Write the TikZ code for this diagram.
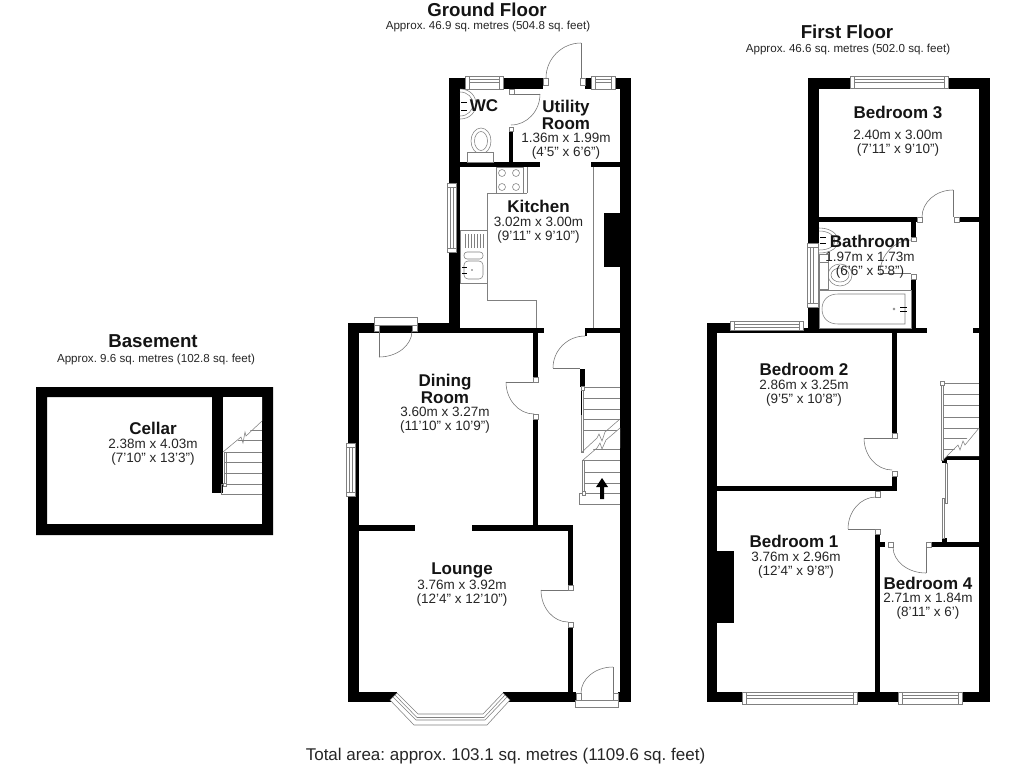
\documentclass[tikz,border=0pt]{standalone}
\usepackage{fontspec}
\setmainfont{Liberation Sans}
\frenchspacing
\tikzset{
  fx/.style={draw=black!50,line width=0.55pt,fill=none},
  dr/.style={draw=black!55,line width=0.55pt},
  wallfill/.style={fill=black,draw=none},
  roomname/.style={font=\fontsize{17}{16.5}\selectfont\bfseries,align=center,inner sep=0pt,text=black!92},
  roomdim/.style={font=\fontsize{13.5}{14}\selectfont,align=center,inner sep=0pt,text=black!85},
  ttl/.style={font=\fontsize{18.7}{20}\selectfont\bfseries,inner sep=0pt,text=black!92},
  subttl/.style={font=\fontsize{11.6}{12}\selectfont,inner sep=0pt,text=black!85}
}
\newcommand{\Wl}[4]{\fill[wallfill] (#1,#2) rectangle (#3,#4);}
\newcommand{\Pst}[4]{\filldraw[fill=white,draw=black!50,line width=0.55pt] (#1,#2) rectangle (#3,#4);}
\newcommand{\HWin}[4]{%
  \filldraw[fill=white,draw=black!50,line width=0.55pt] (#1,#3) rectangle (#2,#4);
  \draw[fx] ({#1+4},{#3+3}) -- ({#2-4},{#3+3}) ({#1+4},{#3+6}) -- ({#2-4},{#3+6}) ({#1+4},#3) -- ({#1+4},#4) ({#2-4},#3) -- ({#2-4},#4);}
\newcommand{\VWin}[4]{%
  \filldraw[fill=white,draw=black!50,line width=0.55pt] (#1,#3) rectangle (#2,#4);
  \draw[fx] ({#1+3},{#3+4}) -- ({#1+3},{#4-4}) ({#1+6},{#3+4}) -- ({#1+6},{#4-4}) (#1,{#3+4}) -- (#2,{#3+4}) (#1,{#4-4}) -- (#2,{#4-4});}
% quarter arcs: HV starts horizontal ends vertical; VH starts vertical ends horizontal
\newcommand{\ArcHV}[4]{\draw[dr] (#1,#2) .. controls ({#1+.55*(#3-(#1))},#2) and (#3,{#2+.45*(#4-(#2))}) .. (#3,#4);}
\newcommand{\ArcVH}[4]{\draw[dr] (#1,#2) .. controls (#1,{#2+.55*(#4-(#2))}) and ({#1+.45*(#3-(#1))},#4) .. (#3,#4);}
\begin{document}
\begin{tikzpicture}[x=1pt,y=-1pt]
\useasboundingbox[fill=white] (0,0) rectangle (1024,768);

%%%%%% BASEMENT
\fill[wallfill,even odd rule] (36,387) rectangle (273,535) (47,397) rectangle (262,524);
\Wl{212}{397}{223}{493}
\foreach \yy in {430,440,452,462,473,484} {\draw[fx] (224,\yy) -- (262,\yy);}
\fill[white] (223.5,397) -- (262,397) -- (262,421) -- (223.5,452) -- cycle;
\draw[fx] (223,452) -- (241,437) -- (243,443) -- (245,432) -- (246,436) -- (262,421);
\draw[fx] (224,452) -- (224,484) (226,452) -- (226,484);
\draw[fx] (262,494) -- (221,494) -- (221,484) -- (262,484);
\Pst{223}{483}{226}{486}

%%%%%% GROUND FLOOR
% outer walls
\Wl{449}{78}{460}{333}
\Wl{449}{78}{543}{89}
\Wl{585}{78}{631}{89}
\Wl{620}{78}{631}{702}
\Wl{348}{323}{460}{333}
\Wl{348}{323}{359}{702}
\Wl{348}{692}{397}{702}
\Wl{503}{692}{576}{702}
\Wl{618}{692}{631}{702}
% inner walls
\Wl{460}{162}{540}{167}
\Wl{591}{162}{620}{167}
\Wl{509}{131}{513}{162}
\Wl{460}{328}{544}{333}
\Wl{585}{328}{620}{333}
\Wl{533}{333}{538}{377}
\Wl{533}{419}{538}{525}
\Wl{359}{525}{415}{531}
\Wl{472}{525}{573}{531}
\Wl{568}{531}{573}{585}
\Wl{568}{627}{573}{692}
\Wl{580}{369}{585}{387}
\Wl{585}{328}{587}{336}
\Wl{604}{213}{620}{267}
% posts
\Pst{509}{89}{514}{94}
\Pst{509}{127}{513}{131}
\Pst{533.5}{377}{538}{382}
\Pst{533.5}{414}{538}{419}
\Pst{568}{585}{573}{590}
\Pst{568}{622}{573}{627}
% windows
\HWin{465}{503}{76}{89}
\HWin{591}{615}{76}{89}
\VWin{447}{456}{183}{252}
\VWin{346}{355}{443}{496}
% external door at top
\Pst{543}{78}{548}{85}
\Pst{580}{78}{585}{85}
\draw[dr] (581,43) -- (581,78);
\ArcHV{581}{43}{546}{78}
% WC door
\draw[dr] (513,94) -- (540,94);
\ArcVH{540}{94}{511}{125}
% WC
\draw[fx] (460,89) .. controls (470,89) and (476,96) .. (476,104) .. controls (476,112) and (470,119) .. (460,119);
\draw[fx] (460,92) .. controls (468,92) and (473,98) .. (473,104) .. controls (473,110) and (468,116) .. (460,116);
\draw[black,line width=1pt] (461,102) -- (467,102) (461,110) -- (467,110);
\draw[fx] (481,141) ellipse [x radius=10,y radius=13];
\draw[fx] (481,141) ellipse [x radius=6.5,y radius=9.5];
\filldraw[fill=white,draw=black!50,line width=0.55pt] (467,152) rectangle (493,162);
% kitchen
\draw[fx] (527,167) -- (527,193) (487,193) -- (527,193) (487,193) -- (487,300) -- (536,300) -- (536,328);
\draw[fx] (496,167) rectangle (523,193);
\foreach \xx/\yy in {502/173,516/173,502/187,516/187} {\draw[fx] (\xx,\yy) circle [radius=3.5];}
\draw[fx] (460,230) rectangle (487,283);
\foreach \xx in {465,468,471,474,477,480,483} {\draw[fx] (\xx,234) -- (\xx,248);}
\draw[fx,rounded corners=3pt] (464,252) rectangle (483,259);
\draw[fx,rounded corners=4pt] (464,261) rectangle (483,279);
\draw[black,line width=1pt] (462,267) -- (467,267) (462,273) -- (467,273);
\fill[black!60] (472,270) circle [radius=0.8];
\draw[fx] (593,167) -- (593,328);
% dining top door
\filldraw[fill=white,draw=black!50,line width=0.55pt] (374,317) rectangle (417,325);
\Pst{374}{325}{379}{331}
\Pst{412}{325}{417}{331}
\draw[dr] (379,331) -- (379,357);
\ArcHV{379}{357}{412}{331}
% dining/hall door
\draw[dr] (506,382) -- (533,382);
\ArcVH{506}{382}{534}{414}
% kitchen/hall door
\draw[dr] (553,368) -- (580,368);
\ArcHV{585}{336}{553}{368}
% lounge door
\draw[dr] (541,590) -- (568,590);
\ArcVH{541}{590}{568}{622}
% stairs
\foreach \yy in {387,398,409,419,430,449,460,472,483,493} {\draw[fx] (584,\yy) -- (620,\yy);}
\fill[white] (584,431) -- (620,431) -- (620,428) -- (606,440) -- (602,449) -- (600,443) -- (584,458) -- cycle;
\fill[white] (597,448) -- (620,448) -- (620,431) -- (606,440) -- cycle;
\draw[fx] (581.5,387) rectangle (583.5,452);
\draw[black,line width=0.8pt] (581.5,387) -- (581.5,415);
\Pst{581}{386}{584}{390}
\draw[fx] (582,452) -- (597,438) -- (599,434) -- (602,441) -- (605,432) -- (620,419);
\draw[fx] (583,460) -- (597,448) -- (600,443) -- (602,449) -- (606,440) -- (620,428);
\draw[fx] (582,460) rectangle (584,493);
\draw[fx] (620,504) -- (579,504) -- (579,493) -- (620,493);
\Pst{582}{491}{585}{495}
\fill[black] (600,499) -- (604,499) -- (604,487) -- (608,487) -- (602,478) -- (596,487) -- (600,487) -- cycle;
% lounge bay
\filldraw[fill=white,draw=black!50,line width=0.55pt] (390,700) -- (414,725) -- (487,725) -- (510,700) -- (503,693) -- (483,714) -- (418,714) -- (397,693) -- cycle;
\draw[fx] (393,697) -- (416,720) -- (485,720) -- (507,697);
\draw[fx] (395,695) -- (417,717.5) -- (484,717.5) -- (505,695);
% front door
\filldraw[fill=white,draw=black!50,line width=0.55pt] (575,700) rectangle (618,707);
\Pst{576}{693}{581}{700}
\Pst{613}{693}{618}{700}
\draw[dr] (613,667) -- (613,693);
\ArcHV{613}{667}{581}{693}

%%%%%% FIRST FLOOR
% outer
\Wl{808}{78}{990}{89}
\Wl{808}{78}{819}{243}
\Wl{808}{307}{819}{333}
\Wl{979}{78}{990}{702}
\Wl{707}{323}{803}{333}
\Wl{707}{323}{717}{702}
\Wl{707}{692}{742}{702}
\Wl{857}{692}{898}{702}
\Wl{962}{692}{990}{702}
\Wl{717}{551}{734}{623}
% inner
\Wl{819}{217}{917}{222}
\Wl{959}{217}{979}{222}
\Wl{911}{222}{916}{237}
\Wl{911}{279}{916}{328}
\Wl{803}{328}{927}{333}
\Wl{973}{328}{979}{333}
\Wl{892}{333}{897}{433}
\Wl{892}{476}{897}{491}
\Wl{717}{486}{897}{491}
\Wl{875}{534}{880}{692}
\Wl{880}{542}{885}{547}
\Wl{931}{542}{979}{547}
\Wl{943}{456}{979}{460}
\Wl{942}{460}{947}{463}
\Wl{942}{538}{947}{542}
% posts
\Pst{917}{217}{922}{222}
\Pst{954}{217}{959}{222}
\Pst{911}{237}{916}{241}
\Pst{911}{274}{916}{279}
\Pst{892}{433}{897}{438}
\Pst{892}{471}{897}{476}
\Pst{875}{491}{880}{497}
\Pst{875}{529}{880}{534}
\Pst{888}{542}{893}{547}
\Pst{926}{542}{931}{547}
% windows
\HWin{850}{948}{76}{88}
\HWin{730}{803}{321}{330}
\VWin{807}{818}{243}{307}
\HWin{742}{857}{692}{704}
\HWin{898}{962}{692}{704}
% doors
\draw[dr] (953,190) -- (953,217);
\ArcHV{953}{190}{922}{217}
\draw[dr] (880,273) -- (911,273);
\draw[dr] (880,273) .. controls (880,255) and (895,240) .. (911,240);
\draw[dr] (864,438) -- (892,438);
\ArcVH{864}{438}{892}{470}
\draw[dr] (848,529) -- (875,529);
\ArcVH{848}{529}{876}{497}
\draw[dr] (926,547) -- (926,573);
\ArcHV{926}{573}{893}{547}
% bathroom fittings
\draw[fx] (819,228) .. controls (832,228) and (838,235) .. (838,241) .. controls (838,247) and (832,253) .. (819,253);
\draw[fx] (819,231) .. controls (829,231) and (835,236) .. (835,241) .. controls (835,246) and (829,250) .. (819,250);
\draw[black,line width=1pt] (820,237) -- (826,237) (820,243) -- (826,243);
\draw[fx] (819,254) rectangle (828,262);
\draw[fx] (840,275) ellipse [x radius=12,y radius=11];
\draw[fx] (840,275) ellipse [x radius=9,y radius=7];
\filldraw[fill=white,draw=black!50,line width=0.55pt] (819,262) rectangle (828,289);
\draw[fx] (819,290) rectangle (911,328);
\draw[fx] (905,294) -- (838,294) .. controls (828,294) and (822,300) .. (822,309) .. controls (822,318) and (828,324) .. (838,324) -- (905,324) -- cycle;
\draw[black,line width=1pt] (900,307) -- (907,307) (900,311) -- (907,311);
\draw[fx] (894,309) circle [radius=1];
% stairs
\foreach \yy in {383,394,405,417,428,438,449} {\draw[fx] (943,\yy) -- (979,\yy);}
\fill[white] (944,459) -- (979,428) -- (979,456) -- (944,456) -- cycle;
\draw[fx] (943,460) -- (958,445) -- (960,450) -- (963,441) -- (965,445) -- (979,428);
\draw[fx] (941,382) rectangle (943.5,460);
\Pst{940.5}{381}{944}{385}
\draw[fx] (945,463) rectangle (947,503);
\draw[fx] (942,498) rectangle (944,538);

%%%%%% TEXT
\node[ttl] (tg) at (487,10) {Ground Floor};
\node[subttl] (sg) at (488,27) {Approx. 46.9 sq. metres (504.8 sq. feet)};
\node[ttl] (tf) at (847,32) {First Floor};
\node[subttl] (sf) at (848,50) {Approx. 46.6 sq. metres (502.0 sq. feet)};
\node[ttl] (tb) at (153,341) {Basement};
\node[subttl] (sb) at (156,359) {Approx. 9.6 sq. metres (102.8 sq. feet)};
\node[font=\fontsize{17}{18}\selectfont,inner sep=0pt,text=black!85] (tot) at (505.5,756) {Total area: approx. 103.1 sq. metres (1109.6 sq. feet)};

\node[roomname] (n1) at (153,428) {Cellar};
\node[roomdim] (d1) at (153,452) {2.38m x 4.03m\\(7'10" x 13'3")};
\node[roomname] (n2) at (484,106) {WC};
\node[roomname] (n3) at (566,115) {Utility\\Room};
\node[roomdim] (d3) at (566,146) {1.36m x 1.99m\\(4'5" x 6'6")};
\node[roomname] (n4) at (538.5,206) {Kitchen};
\node[roomdim] (d4) at (538.5,230) {3.02m x 3.00m\\(9'11" x 9'10")};
\node[roomname] (n5) at (445,389) {Dining\\Room};
\node[roomdim] (d5) at (445,420) {3.60m x 3.27m\\(11'10" x 10'9")};
\node[roomname] (n6) at (462,570) {Lounge};
\node[roomdim] (d6) at (462,593) {3.76m x 3.92m\\(12'4" x 12'10")};
\node[roomname] (n7) at (898,112) {Bedroom 3};
\node[roomdim] (d7) at (898,143) {2.40m x 3.00m\\(7'11" x 9'10")};
\node[roomname] (n8) at (870,241) {Bathroom};
\node[roomdim] (d8) at (870,265) {1.97m x 1.73m\\(6'6" x 5'8")};
\node[roomname] (n9) at (804,369) {Bedroom 2};
\node[roomdim] (d9) at (804,393) {2.86m x 3.25m\\(9'5" x 10'8")};
\node[roomname] (n10) at (794,541) {Bedroom 1};
\node[roomdim] (d10) at (796,565) {3.76m x 2.96m\\(12'4" x 9'8")};
\node[roomname] (n11) at (928,583) {Bedroom 4};
\node[roomdim] (d11) at (928,606) {2.71m x 1.84m\\(8'11" x 6')};
\end{tikzpicture}
\end{document}
